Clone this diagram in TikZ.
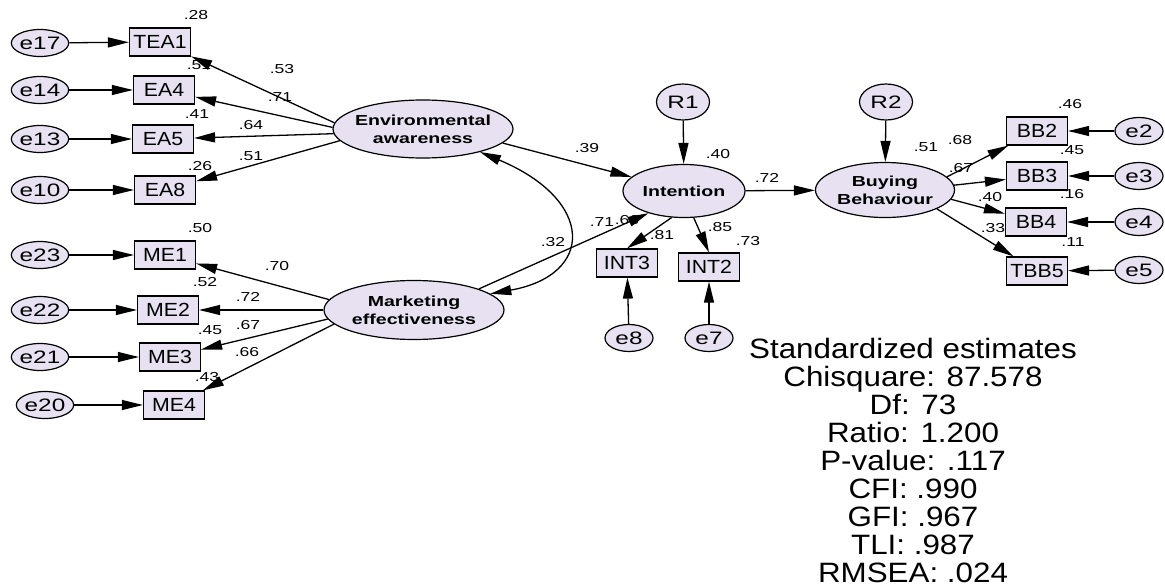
\documentclass[tikz,border=0pt]{standalone}
\usepackage{fontspec}
\setmainfont{Liberation Sans}
\newfontfamily\amosfont[FakeStretch=1.12]{Liberation Sans}
\newfontfamily\amoswide[FakeStretch=1.35]{Liberation Sans}
\usetikzlibrary{shapes.geometric, arrows.meta}
\definecolor{lavender}{RGB}{231,225,242}
\tikzset{
	latent/.style={ellipse, draw, fill=lavender, line width=1.2pt, inner xsep=-12pt, inner ysep=0pt, align=center, font=\amoswide\bfseries\fontsize{14.5}{18}\selectfont},
	errvar/.style={ellipse, draw, fill=lavender, line width=1.2pt, inner sep=0pt, minimum width=48pt, minimum height=27pt, font=\amoswide\fontsize{18}{18}\selectfont},
	disturb/.style={errvar, minimum width=53pt, minimum height=36pt},
	indicator/.style={rectangle, draw, fill=lavender, line width=1.2pt, inner sep=0pt, minimum width=61pt, minimum height=28pt, font=\amosfont\fontsize{19}{19}\selectfont},
	coef/.style={inner sep=0pt, font=\amoswide\fontsize{13}{13}\selectfont},
	stats/.style={inner sep=0pt, align=center, font=\amosfont\fontsize{28}{28}\selectfont},
	regpath/.style={line width=1.3pt, -{Triangle[length=21pt,width=10pt]}},
	covarc/.style={line width=1.3pt, {Triangle[length=21pt,width=10pt]}-{Triangle[length=21pt,width=10pt]}},
}
\begin{document}
\begin{tikzpicture}[x=1pt, y=-1pt]
				\useasboundingbox (0,0) rectangle (1165,586);
				
				% latent variables
				\node[latent, minimum width=180pt, minimum height=58pt] (Env) at (423,129) {Environmental\\awareness};
				\node[latent, minimum width=180pt, minimum height=59pt] (Mkt) at (414,310) {Marketing\\effectiveness};
				\node[latent, minimum width=122pt, minimum height=53pt] (Int) at (684,191) {Intention};
				\node[latent, minimum width=139pt, minimum height=55pt] (Buy) at (885,190) {Buying\\Behaviour};
				\node[disturb] (R1) at (683,102) {R1};
				\node[disturb] (R2) at (886,102) {R2};
				
				% indicators
				\node[indicator] (TEA1) at (160,42) {TEA1};
				\node[indicator] (EA4) at (164,90) {EA4};
				\node[indicator] (EA5) at (163,139) {EA5};
				\node[indicator] (EA8) at (165,190) {EA8};
				\node[indicator] (ME1) at (165,255) {ME1};
				\node[indicator] (ME2) at (168,310) {ME2};
				\node[indicator] (ME3) at (170,357) {ME3};
				\node[indicator] (ME4) at (174,405) {ME4};
				\node[indicator] (INT3) at (627,263) {INT3};
				\node[indicator] (INT2) at (709,267) {INT2};
				\node[indicator] (BB2) at (1037,131) {BB2};
				\node[indicator] (BB3) at (1037,176) {BB3};
				\node[indicator] (BB4) at (1036,222) {BB4};
				\node[indicator] (TBB5) at (1037,271) {TBB5};
				
				% error terms
				\node[errvar] (e17) at (40,43) {e17};
				\node[errvar] (e14) at (40,90) {e14};
				\node[errvar] (e13) at (40,139) {e13};
				\node[errvar] (e10) at (40,190) {e10};
				\node[errvar] (e23) at (40,255) {e23};
				\node[errvar] (e22) at (40,310) {e22};
				\node[errvar] (e21) at (40,357) {e21};
				\node[errvar] (e20) at (45,405) {e20};
				\node[errvar] (e8) at (629,338) {e8};
				\node[errvar] (e7) at (709,338) {e7};
				\node[errvar] (e2) at (1139,131) {e2};
				\node[errvar] (e3) at (1139,176) {e3};
				\node[errvar] (e4) at (1139,222) {e4};
				\node[errvar] (e5) at (1139,270) {e5};
				
				\draw[regpath] (e17) -- (TEA1);
				\draw[regpath] (e14) -- (EA4);
				\draw[regpath] (e13) -- (EA5);
				\draw[regpath] (e10) -- (EA8);
				\draw[regpath] (e23) -- (ME1);
				\draw[regpath] (e22) -- (ME2);
				\draw[regpath] (e21) -- (ME3);
				\draw[regpath] (e20) -- (ME4);
				\draw[regpath] (e8) -- (INT3);
				\draw[regpath] (e7) -- (INT2);
				\draw[regpath] (e2) -- (BB2);
				\draw[regpath] (e3) -- (BB3);
				\draw[regpath] (e4) -- (BB4);
				\draw[regpath] (e5) -- (TBB5);
				
				\draw[regpath] (Env.176) -- (TEA1);
				\draw[regpath] (Env.179) -- (EA4);
				\draw[regpath] (Env.183) -- (EA5);
				\draw[regpath] (Env.188) -- (EA8);
				\draw[regpath] (Mkt.173) -- (ME1);
				\draw[regpath] (Mkt.west) -- (ME2);
				\draw[regpath] (Mkt.186) -- (ME3);
				\draw[regpath] (Mkt.190) -- (ME4);
				
				\draw[regpath] (Env.-10) -- (Int.165);
				\draw[regpath] (Mkt.18) -- (Int.212);
				\draw[covarc] (Env.-22) .. controls (595,200) and (595,275) .. (Mkt.12);
				\draw[regpath] (R1) -- (Int);
				\draw[regpath] (Int.245) -- (INT3.north);
				\draw[regpath] (Int.290) -- (INT2.north);
				\draw[regpath] (Int) -- (Buy);
				\draw[regpath] (R2) -- (Buy);
				\draw[regpath] (Buy.12) -- (BB2);
				\draw[regpath] (Buy.4) -- (BB3);
				\draw[regpath] (Buy.-8) -- (BB4);
				\draw[regpath] (Buy.-20) -- (TBB5);
				
				% estimates
				\node[coef] (sTEA1) at (196,15) {.28};
				\node[coef] (wTEA1) at (282,69) {.53};
				\node[coef] (sEA4) at (199,65) {.51};
				\node[coef] (wEA4) at (280,97) {.71};
				\node[coef] (sEA5) at (197,114) {.41};
				\node[coef] (wEA5) at (251,125) {.64};
				\node[coef] (sEA8) at (200,166) {.26};
				\node[coef] (wEA8) at (251,156) {.51};
				\node[coef] (sME1) at (200,228) {.50};
				\node[coef] (wME1) at (277,266) {.70};
				\node[coef] (sME2) at (205,282) {.52};
				\node[coef] (wME2) at (248,297) {.72};
				\node[coef] (sME3) at (210,330) {.45};
				\node[coef] (wME3) at (248,325) {.67};
				\node[coef] (wME4) at (247,352) {.66};
				\node[coef] (sME4) at (207,377) {.43};
				\node[coef] (wEnv) at (587,148) {.39};
				\node[coef] (cEnvMkt) at (553,242) {.32};
				\node[coef] (wMkt) at (602,222) {.71};
				\node[coef] (sINT3) at (627,220) {.66};
				\node[coef] (sInt) at (718,154) {.40};
				\node[coef] (wINT3) at (662,235) {.81};
				\node[coef] (wINT2) at (720,227) {.85};
				\node[coef] (sINT2) at (748,241) {.73};
				\node[coef] (wInt) at (767,178) {.72};
				\node[coef] (sBuy) at (926,147) {.51};
				\node[coef] (wBB2) at (960,140) {.68};
				\node[coef] (sBB2) at (1070,104) {.46};
				\node[coef] (wBB3) at (961,168) {.67};
				\node[coef] (sBB3) at (1072,150) {.45};
				\node[coef] (wBB4) at (990,197) {.40};
				\node[coef] (sBB4) at (1072,194) {.16};
				\node[coef] (wTBB5) at (993,228) {.33};
				\node[coef] (sTBB5) at (1073,242) {.11};
				
				\node[stats] (fit) at (913,460) {Standardized estimates\\Chisquare: 87.578\\Df: 73\\Ratio: 1.200\\P-value: .117\\CFI: .990\\GFI: .967\\TLI: .987\\RMSEA: .024};
			\end{tikzpicture}
\end{document}
